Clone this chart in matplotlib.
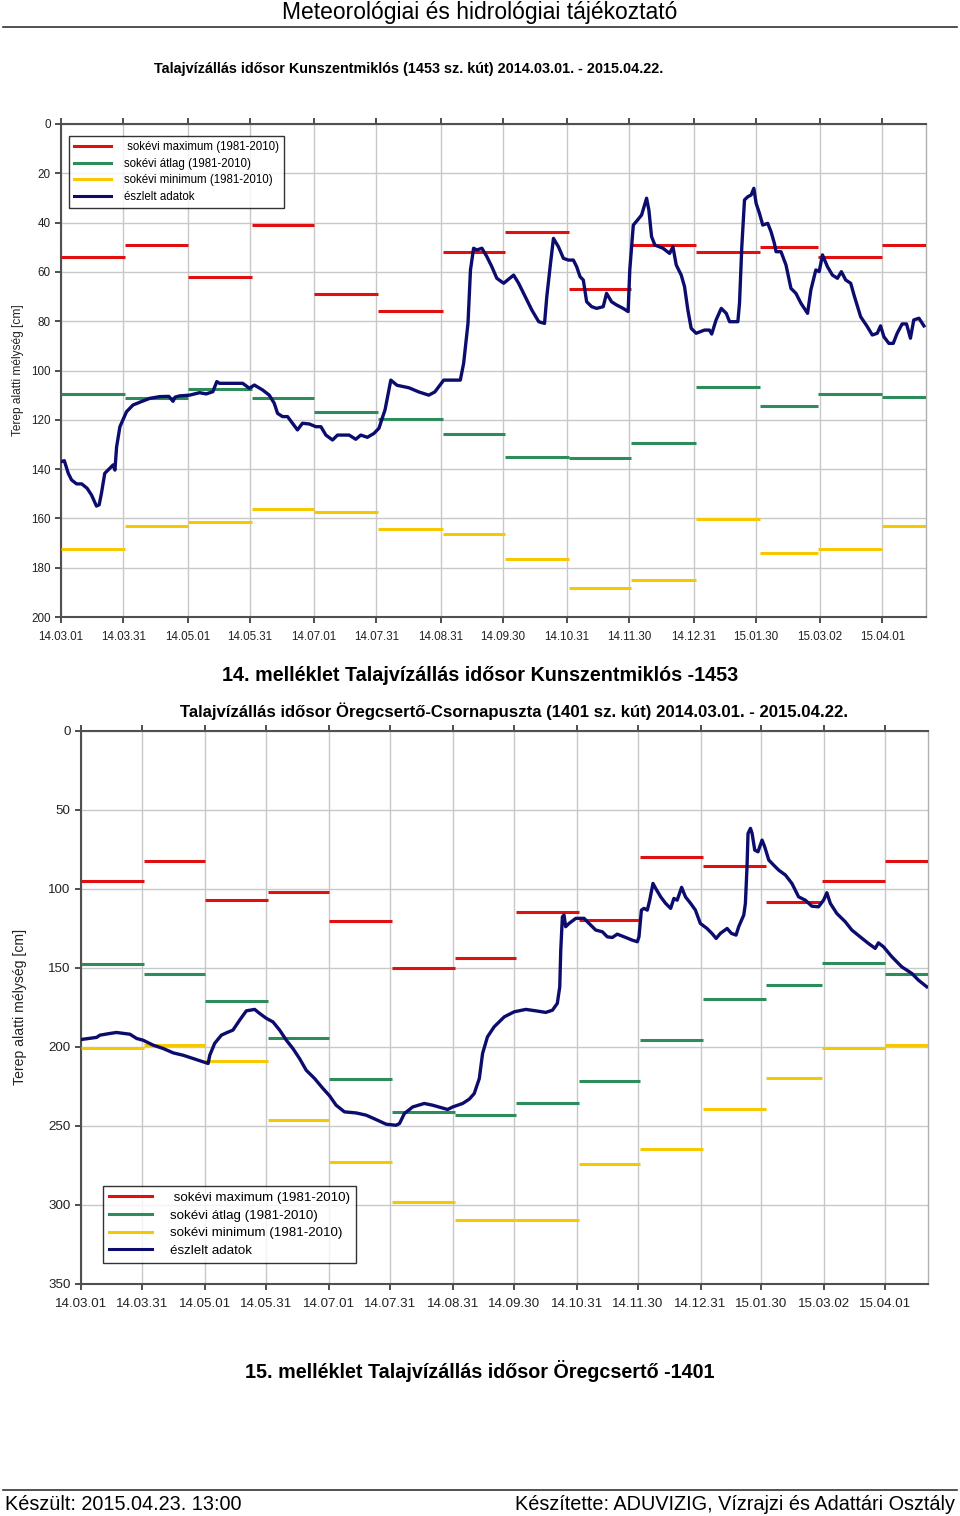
import numpy as np
import matplotlib
matplotlib.use("Agg")
import matplotlib.pyplot as plt
from matplotlib.lines import Line2D

# ---------------- data ----------------
START = np.datetime64("2014-03-01")
month_edges = ["2014-03-01", "2014-04-01", "2014-05-01", "2014-06-01", "2014-07-01",
               "2014-08-01", "2014-09-01", "2014-10-01", "2014-11-01", "2014-12-01",
               "2015-01-01", "2015-02-01", "2015-03-01", "2015-04-01", "2015-04-22"]
tick_labels = ["14.03.01", "14.03.31", "14.05.01", "14.05.31", "14.07.01", "14.07.31",
               "14.08.31", "14.09.30", "14.10.31", "14.11.30", "14.12.31", "15.01.30",
               "15.03.02", "15.04.01"]

# Kunszentmiklós 1453
k_max = [54, 49, 62, 41, 69, 76, 52, 44, 67, 49, 52, 50, 54, 49]
k_avg = [109.5, 111, 107.6, 111.2, 116.8, 119.7, 125.8, 135, 135.5, 129.4, 106.5, 114.6, 109.5, 110.8]
k_min = [172.4, 163.2, 161.5, 156.2, 157.4, 164.3, 166.3, 176.5, 188.2, 185, 160.2, 174, 172.4, 163]
k_day = [0, 1.6, 3.5, 5.1, 7.5, 10, 12.6, 14.7, 17.1, 18.4, 19.5, 21.1, 23.5, 25.1, 26, 26.8,
         28.4, 31.6, 34.7, 38.8, 42.8, 47.6, 52, 54, 55, 57.2, 62, 66.8, 70, 73.2, 75.1, 76.4,
         82.8, 87.6, 90.8, 93.2, 97.2, 100.4, 102.8, 104.4, 106.8, 109.2, 111.6, 114, 116.4,
         119.7, 122.9, 125.3, 127.7, 130.9, 133.3, 138.9, 142.1, 144.5, 147.7, 150.9, 153.3,
         154.6, 156.2, 159, 162, 167.7, 172.5, 177.3, 180.2, 184.5, 192.5, 194.1, 196.2,
         197.4, 198.9, 200.5, 202.9, 205.3, 207.7, 210.1, 213.4, 218.2, 220.6, 223.8, 227,
         230.3, 233.1, 234.2, 235.8, 237.4, 239.8, 242.2, 244.6, 247, 248.6, 250.2, 251.8,
         253.4, 255.8, 258.2, 261.4, 263, 265.4, 267.8, 271, 273.4, 274.2, 275.9, 278, 279.9,
         282.3, 283.4, 284.7, 286.3, 290.2, 293.4, 295, 296.6, 299, 300.6, 302.2, 303.8,
         306.2, 310.2, 312.6, 313.7, 315.8, 318.3, 320.7, 322.3, 326.3, 327.1, 328.2, 329.5,
         331.1, 332.7, 334, 335.1, 336.7, 338.3, 340.7, 342.3, 343.9, 344.7, 347.1, 349.5,
         351.9, 354.3, 356.7, 359.9, 361.5, 363.9, 365.5, 367.1, 369.5, 371.9, 374.3, 376.2,
         378.3, 380.7, 382.3, 385.5, 388.7, 391.1, 393.5, 395.1, 396.7, 399.1, 401.2, 403.1,
         405.5, 407.6, 409.5, 411.1, 413.6, 416]
k_obs = [137, 136.6, 141.7, 144.4, 146, 146, 147.8, 150.5, 155, 154.5, 149.8, 141.7, 139.7,
         138.3, 140.4, 131, 122.8, 116.7, 114, 112.6, 111.3, 110.6, 110.5, 112.5, 110.8, 110.3,
         110, 109, 109.5, 108.6, 104.5, 105.2, 105.2, 105.2, 107.2, 105.9, 107.9, 110, 113.3,
         117.4, 118.7, 118.7, 121.4, 124.1, 121.4, 121.7, 122.8, 122.8, 126.2, 128.2, 126.2,
         126.2, 127.9, 126.2, 127.1, 125.5, 123.4, 120, 116, 103.9, 106, 107, 108.7, 110,
         108.7, 103.9, 103.9, 97.1, 80.9, 59.2, 50.4, 51.1, 50.4, 53.8, 57.9, 62.6, 64.6, 61.3,
         64.6, 70, 75.5, 80.2, 80.9, 70, 57.9, 46.4, 49.8, 54.5, 55.2, 55.2, 57.9, 61.9, 63.3,
         72.1, 74.1, 74.8, 74.1, 68.7, 72.1, 73.4, 74.8, 76.1, 59.2, 41, 38.9, 36.9, 30.1, 34.9,
         45.7, 49.1, 50.4, 52.5, 49.8, 57.2, 61.3, 66, 75.5, 82.9, 84.9, 83.6, 83.6, 85.2,
         79.5, 74.8, 76.8, 80.2, 80.2, 72.7, 49.8, 30.8, 29.5, 28.8, 26.1, 32.2, 36.2, 41,
         40.3, 43.7, 48.4, 51.8, 51.8, 57.2, 66.7, 68.7, 72.7, 76.8, 67.3, 59.2, 59.9, 53.1,
         57.9, 61.3, 62.6, 59.9, 63.3, 64.6, 69.4, 78.2, 82.2, 85.6, 84.9, 81.9, 86.3, 89, 89,
         84.9, 81.1, 81.1, 86.9, 79.5, 78.8, 81.9]

# Öregcsertő 1401
o_max = [94.9, 82.3, 107.2, 102.3, 120.4, 150, 143.9, 114.8, 120, 80.1, 85.4, 108.2, 94.9, 82.3]
o_avg = [147.4, 154, 170.9, 194.3, 220.4, 241.5, 242.8, 235.2, 221.7, 195.6, 170, 160.7, 147.2, 153.8]
o_min = [201, 198.5, 208.9, 246, 272.8, 298.3, 309.7, 309.7, 274.2, 264.7, 239.4, 219.7, 201, 198.5]
o_day = [0.3, 7.7, 9.3, 14.3, 17.5, 24.1, 27.4, 30.6, 35.5, 40.4, 45.4, 50.3, 55.2, 60.1, 62.6,
         63.4, 65.8, 69.1, 71.6, 74.8, 78.1, 81.4, 85.5, 88, 91.3, 94.5, 97.8, 101.1, 104.3,
         107.6, 110.9, 115, 119.1, 122.4, 125.6, 129.7, 135.5, 140.4, 145.3, 150.2, 155.1,
         156.8, 159.2, 163.3, 169, 173.1, 180.5, 183, 187.9, 191.2, 193.6, 196.1, 197.7,
         200.1, 203.4, 208.4, 213.3, 219, 223.9, 228.8, 232.1, 234.5, 235.7, 236.2, 237,
         237.8, 238.6, 240.3, 243.6, 247.7, 250.1, 253.4, 256.7, 259.1, 261.6, 264, 268.2,
         271.4, 273.9, 274.7, 275.9, 277.2, 278.8, 280, 281.6, 282.9, 285.4, 287.8, 290.3,
         291.9, 293.5, 295.7, 297.6, 300.1, 302.5, 304.9, 308.2, 310.6, 312.7, 314.8, 318.1,
         320.2, 322.5, 323.8, 326.3, 327.1, 327.9, 328.4, 329.6, 330.4, 331.7, 333.3, 335.3,
         336.6, 338.6, 341, 343.5, 346.8, 350, 353.3, 356.6, 359.8, 363.1, 365.6, 367.2,
         368.9, 372.1, 376.3, 379.5, 383.6, 387.7, 391, 392.6, 395.1, 399.2, 404.1, 409,
         412.3, 416.4]
o_obs = [195.3, 194, 192.6, 191.5, 190.9, 192, 194.7, 195.8, 198.9, 201, 203.8, 205.3, 207.4,
         209.5, 210.5, 205.3, 197.8, 192.6, 191.1, 189.4, 183.1, 177.2, 176.3, 178.9, 182,
         184.2, 189.4, 195.8, 201, 207.4, 214.8, 220, 226.3, 231, 236.9, 241.1, 241.8, 243.2,
         246, 248.9, 249.6, 248.5, 242.2, 238, 235.8, 236.9, 239.6, 238, 235.8, 233, 229.5,
         220, 204.2, 193.7, 187.3, 181, 177.8, 176.3, 177.2, 178.2, 176.8, 172.5, 162, 138.8,
         117.7, 116.6, 124, 121.9, 118.7, 118.7, 121.9, 126.1, 127.2, 130.4, 130.8, 128.7,
         130.8, 132.5, 133.5, 130.4, 113.5, 112.4, 113.5, 107.2, 96.6, 99.7, 105.1, 109.2,
         112.4, 106.1, 107.2, 99.1, 105.1, 109.2, 113.5, 121.9, 125.1, 128.2, 131.4, 128.2,
         125.1, 128.2, 129.3, 124, 116.6, 109.2, 86.1, 65, 61.8, 65, 75.5, 76.6, 69.2, 73.4,
         81.8, 85, 88.2, 91.3, 96.6, 105.1, 107.2, 111, 111.4, 107.2, 102.5, 109.2, 115.6,
         120.9, 126.1, 130.4, 134.6, 137.7, 134.2, 136.7, 143, 149.4, 153.5, 157.8, 162]

legend_labels = [" sokévi maximum (1981-2010)", "sokévi átlag (1981-2010)",
                 "sokévi minimum (1981-2010)", "észlelt adatok"]

# ---------------- style ----------------
FONT = ["Liberation Sans", "DejaVu Sans"]
plt.rcParams["font.family"] = FONT
C_MAX, C_AVG, C_MIN, C_OBS = "#e01010", "#2e8b5a", "#f5c800", "#0c0c6e"


def to_day(s):
    return (np.datetime64(s) - START).astype(int)


edges = np.array([to_day(s) for s in month_edges])
tick_pos = []
for lab in tick_labels:
    yy, mm, dd = lab.split(".")
    tick_pos.append(to_day(f"20{yy}-{mm}-{dd}"))


def draw(ax, mx, av, mn, day, obs, ymax, ystep, fs, yfs, ylpad, lw, legend_kw):
    for vals, col in ((mx, C_MAX), (av, C_AVG), (mn, C_MIN)):
        ax.hlines(vals, edges[:-1], edges[1:], colors=col, linewidth=lw, zorder=3)
    ax.plot(day, obs, color=C_OBS, linewidth=lw + 0.2, zorder=4)
    ax.set_xlim(0, edges[-1])
    ax.set_ylim(ymax, 0)
    ax.set_yticks(np.arange(0, ymax + 1, ystep))
    ax.set_xticks(tick_pos)
    ax.set_xticklabels(tick_labels)
    ax.grid(True, color="#c8c8c8", linewidth=1.0, zorder=0)
    ax.tick_params(axis="both", labelsize=fs, colors="#303030", length=4, width=1.2,
                   labelcolor="#222222")
    ax.tick_params(axis="x", top=True, pad=6)
    for sp in ("left", "bottom", "top"):
        ax.spines[sp].set_color("#505050")
        ax.spines[sp].set_linewidth(1.5)
    ax.spines["right"].set_color("#b0b0b0")
    ax.spines["right"].set_linewidth(1.0)
    ax.set_ylabel("Terep alatti mélység [cm]", fontsize=yfs, color="#222222", labelpad=ylpad)
    handles = [Line2D([], [], color=c, linewidth=lw) for c in (C_MAX, C_AVG, C_MIN, C_OBS)]
    leg = ax.legend(handles, legend_labels, frameon=True, fancybox=False, borderaxespad=0,
                    **legend_kw)
    leg.get_frame().set_edgecolor("#000000")
    leg.get_frame().set_linewidth(1.0)
    leg.set_zorder(10)


fig = plt.figure(figsize=(9.6, 15.16), dpi=100)

# header / footer
fig.text(0.5, 1 - 12 / 1516, "Meteorológiai és hidrológiai tájékoztató", ha="center",
         va="center", fontsize=16.5)
fig.add_artist(Line2D([3 / 960, 957 / 960], [1 - 27 / 1516] * 2, color="#333333", linewidth=1.2))
fig.add_artist(Line2D([3 / 960, 957 / 960], [1 - 1490 / 1516] * 2, color="#333333", linewidth=1.2))
fig.text(5 / 960, 1 - 1504 / 1516, "Készült: 2015.04.23. 13:00", ha="left", va="center",
         fontsize=14.3)
fig.text(955 / 960, 1 - 1504 / 1516, "Készítette: ADUVIZIG, Vízrajzi és Adattári Osztály",
         ha="right", va="center", fontsize=14.3)

# chart 1
ax1 = fig.add_axes([61 / 960, 1 - 617 / 1516, 865 / 960, 493 / 1516])
draw(ax1, k_max, k_avg, k_min, k_day, k_obs, 200, 20, 8.4, 8.6, 5, 2.2,
     dict(loc="upper left", bbox_to_anchor=(0.009, 0.976), fontsize=8.3, handlelength=3.2,
          labelspacing=0.4, borderpad=0.45, handletextpad=1.1))
fig.text(409 / 960, 1 - 69 / 1516,
         "Talajvízállás idősor Kunszentmiklós (1453 sz. kút) 2014.03.01. - 2015.04.22.",
         ha="center", va="center", fontsize=10.4, fontweight="bold")
fig.text(0.5, 1 - 676 / 1516, "14. melléklet Talajvízállás idősor Kunszentmiklós -1453",
         ha="center", va="center", fontsize=14.2, fontweight="bold")

# chart 2
ax2 = fig.add_axes([81 / 960, 1 - 1284 / 1516, 847 / 960, 553.3 / 1516])
draw(ax2, o_max, o_avg, o_min, o_day, o_obs, 350, 50, 9.6, 10.1, 15, 2.2,
     dict(loc="lower left", bbox_to_anchor=(0.026, 0.038), fontsize=9.6, handlelength=3.2,
          labelspacing=0.4, borderpad=0.45, handletextpad=1.4))
fig.text(514 / 960, 1 - 711 / 1516,
         "Talajvízállás idősor Öregcsertő-Csornapuszta (1401 sz. kút) 2014.03.01. - 2015.04.22.",
         ha="center", va="center", fontsize=12.1, fontweight="bold")
fig.text(0.5, 1 - 1371 / 1516, "15. melléklet Talajvízállás idősor Öregcsertő -1401",
         ha="center", va="center", fontsize=14.2, fontweight="bold")

fig.savefig("out.png", dpi=100)
